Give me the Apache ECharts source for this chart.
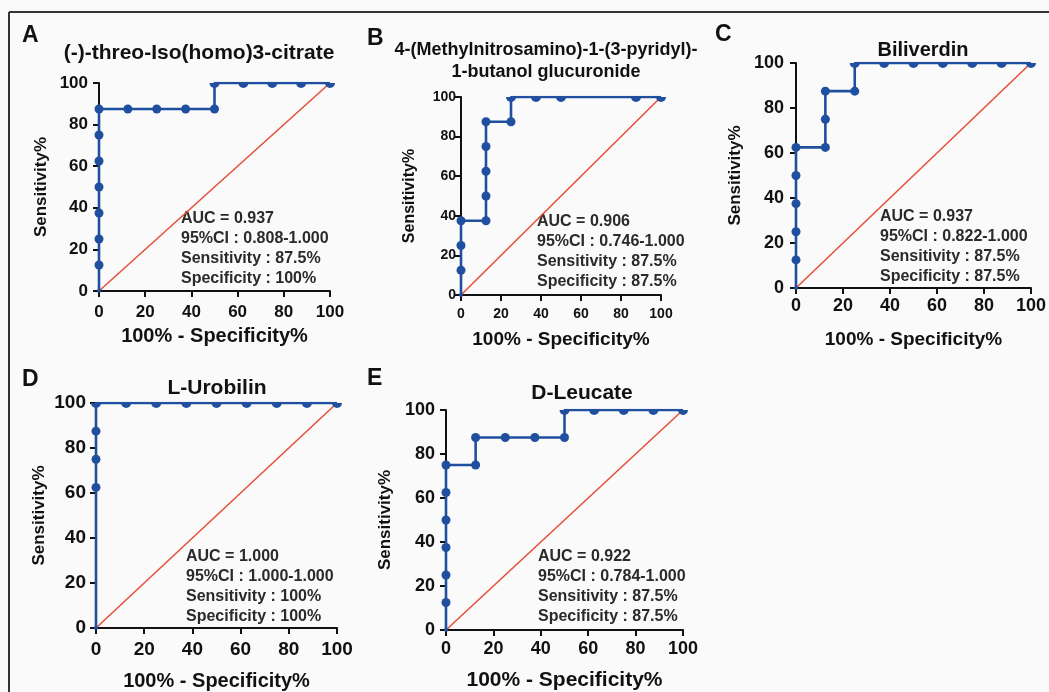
<!DOCTYPE html>
<html>
<head>
<meta charset="utf-8">
<script src="https://cdn.jsdelivr.net/npm/echarts@6/dist/echarts.min.js"></script>
<style>
  html, body { margin: 0; padding: 0; background: #fafafa; }
  #chart { width: 1049px; height: 692px; }
</style>
</head>
<body>
<div id="chart"></div>
<script>
// ROC 数据 (100% - Specificity%, Sensitivity%)
const aFpr = [0, 0, 0, 0, 0, 0, 0, 0, 12.5, 25, 37.5, 50, 50, 62.5, 75, 87.5, 100]
const aSens = [0, 12.5, 25, 37.5, 50, 62.5, 75, 87.5, 87.5, 87.5, 87.5, 87.5, 100, 100, 100, 100, 100]

const bFpr = [0, 0, 0, 0, 12.5, 12.5, 12.5, 12.5, 12.5, 25, 25, 37.5, 50, 87.5, 100]
const bSens = [0, 12.5, 25, 37.5, 37.5, 50, 62.5, 75, 87.5, 87.5, 100, 100, 100, 100, 100]

const cFpr = [0, 0, 0, 0, 0, 0, 12.5, 12.5, 12.5, 25, 25, 37.5, 50, 62.5, 75, 87.5, 100]
const cSens = [0, 12.5, 25, 37.5, 50, 62.5, 62.5, 75, 87.5, 87.5, 100, 100, 100, 100, 100, 100, 100]

const dFpr = [0, 0, 0, 0, 0, 12.5, 25, 37.5, 50, 62.5, 75, 87.5, 100]
const dSens = [0, 62.5, 75, 87.5, 100, 100, 100, 100, 100, 100, 100, 100, 100]

const eFpr = [0, 0, 0, 0, 0, 0, 0, 12.5, 12.5, 25, 37.5, 50, 50, 62.5, 75, 87.5, 100]
const eSens = [0, 12.5, 25, 37.5, 50, 62.5, 75, 75, 87.5, 87.5, 87.5, 87.5, 100, 100, 100, 100, 100]

// 参考线
const refX = [0, 100]
const refY = [0, 100]

const panelLetters = ['A', 'B', 'C', 'D', 'E']
const panelTitles = [
  '(-)-threo-Iso(homo)3-citrate',
  '4-(Methylnitrosamino)-1-(3-pyridyl)-\n1-butanol glucuronide',
  'Biliverdin',
  'L-Urobilin',
  'D-Leucate'
]
const aucText = ['AUC = 0.937', 'AUC = 0.906', 'AUC = 0.937', 'AUC = 1.000', 'AUC = 0.922']
const ciText = ['95%CI : 0.808-1.000', '95%CI : 0.746-1.000', '95%CI : 0.822-1.000', '95%CI : 1.000-1.000', '95%CI : 0.784-1.000']
const sensText = ['Sensitivity : 87.5%', 'Sensitivity : 87.5%', 'Sensitivity : 87.5%', 'Sensitivity : 100%', 'Sensitivity : 87.5%']
const specText = ['Specificity : 100%', 'Specificity : 87.5%', 'Specificity : 87.5%', 'Specificity : 100%', 'Specificity : 87.5%']

const curves = [[aFpr, aSens], [bFpr, bSens], [cFpr, cSens], [dFpr, dSens], [eFpr, eSens]]

// 布局 (像素)
const layout = [
  { grid: [99, 83, 231, 208], letter: [22, 36], title: [199, 53], tf: 21, note: [181, 209], tick: 17, xm: 13, ym: 11, xn: 20, yn: 17, xg: 35, yg: 49 },
  { grid: [461, 97, 200, 198], letter: [367, 39], title: [546, 61], tf: 18, note: [537, 212], tick: 14, xm: 12, ym: 5, xn: 19, yn: 16, xg: 35, yg: 43 },
  { grid: [796, 63, 238, 225], letter: [715, 35], title: [923, 50], tf: 20, note: [880, 207], tick: 18, xm: 9, ym: 12, xn: 19, yn: 17, xg: 42, yg: 52 },
  { grid: [96, 403, 241, 225], letter: [22, 380], title: [217, 388], tf: 21, note: [186, 547], tick: 19, xm: 12, ym: 10, xn: 20, yn: 17, xg: 43, yg: 48 },
  { grid: [446, 410, 237, 221], letter: [367, 379], title: [582, 393], tf: 21, note: [538, 547], tick: 18, xm: 10, ym: 11, xn: 21, yn: 17, xg: 40, yg: 52 }
]

const FONT = 'Liberation Sans, Arial, sans-serif'
const BLUE = '#1f4f9e'
const RED = '#e5523c'
const HALF = 'path://M0,0A5,5,0,0,0,10,0Z'

const toPoints = (xs, ys) => xs.map((x, i) => {
  const item = { value: [x, ys[i]] }
  if (ys[i] >= 100) {
    item.symbol = HALF
    item.symbolSize = [10, 5]
    item.symbolOffset = [0, 2.5]
  } else if (x === 0 && ys[i] === 0) {
    item.symbolSize = 4
  }
  return item
})

const axisBase = (fontSize, margin) => ({
  type: 'value', min: 0, max: 100, interval: 20,
  splitLine: { show: false },
  axisLine: { show: true, lineStyle: { color: '#111', width: 2 } },
  axisTick: { show: true, length: 6, lineStyle: { color: '#111', width: 2 } },
  axisLabel: { fontFamily: FONT, fontWeight: 'bold', fontSize, color: '#111', margin },
  nameLocation: 'middle'
})

const grids = [], xAxes = [], yAxes = [], series = [], titles = [], graphics = []

layout.forEach((p, i) => {
  const [l, t, w, h] = p.grid
  grids.push({ left: l, top: t, width: w, height: h })
  xAxes.push({
    ...axisBase(p.tick, p.xm), gridIndex: i,
    name: '100% - Specificity%', nameGap: p.xg,
    nameTextStyle: { fontFamily: FONT, fontWeight: 'bold', fontSize: p.xn, color: '#111' }
  })
  yAxes.push({
    ...axisBase(p.tick, p.ym), gridIndex: i,
    name: 'Sensitivity%', nameGap: p.yg,
    nameTextStyle: { fontFamily: FONT, fontWeight: 'bold', fontSize: p.yn, color: '#111' }
  })
  series.push({
    type: 'line', xAxisIndex: i, yAxisIndex: i,
    data: refX.map((x, k) => [x, refY[k]]),
    symbol: 'none', lineStyle: { color: RED, width: 1.6 }, z: 2
  })
  series.push({
    type: 'line', xAxisIndex: i, yAxisIndex: i,
    data: toPoints(curves[i][0], curves[i][1]),
    symbol: 'circle', symbolSize: 9, showAllSymbol: true,
    itemStyle: { color: BLUE }, lineStyle: { color: BLUE, width: 2.6 }, z: 3
  })
  titles.push({
    text: panelTitles[i], left: p.title[0], top: p.title[1] - (i === 1 ? 22 : 12), textAlign: 'center',
    padding: 0,
    textStyle: { fontFamily: FONT, fontWeight: 'bold', fontSize: p.tf, color: '#111', lineHeight: i === 1 ? 22 : 24 }
  })
  graphics.push({
    type: 'text', x: p.letter[0], y: p.letter[1],
    style: { text: panelLetters[i], font: 'bold 23px ' + FONT, fill: '#111', textVerticalAlign: 'middle' }
  })
  graphics.push({
    type: 'text', x: p.note[0], y: p.note[1],
    style: {
      text: [aucText[i], ciText[i], sensText[i], specText[i]].join('\n'),
      font: 'bold 16px ' + FONT, fill: '#2a2a2a', lineHeight: 20
    }
  })
})

// 外框
graphics.push({ type: 'line', shape: { x1: 9, y1: 12, x2: 1049, y2: 12 }, style: { stroke: '#333', lineWidth: 2 } })
graphics.push({ type: 'line', shape: { x1: 9, y1: 12, x2: 9, y2: 692 }, style: { stroke: '#333', lineWidth: 2 } })

const chart = echarts.init(document.getElementById('chart'))
chart.setOption({
  backgroundColor: '#fafafa',
  animation: false,
  title: titles,
  grid: grids,
  xAxis: xAxes,
  yAxis: yAxes,
  series,
  graphic: graphics
})
</script>
</body>
</html>
